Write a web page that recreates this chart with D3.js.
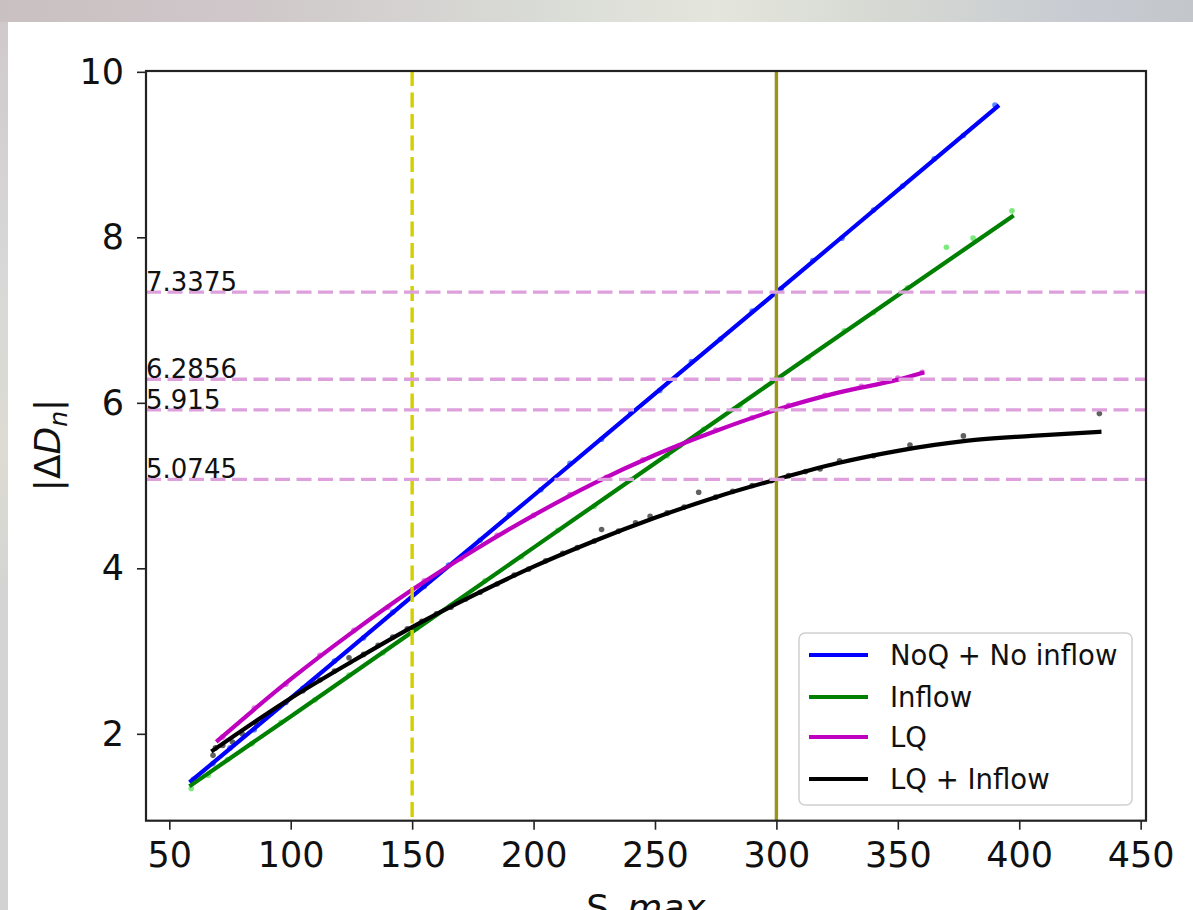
<!DOCTYPE html>
<html><head><meta charset="utf-8">
<script src="https://cdn.jsdelivr.net/npm/d3@7"></script>
<style>html,body{margin:0;padding:0;background:#fff;}svg{display:block;}</style>
</head><body>
<svg id="chart" width="1193" height="910"></svg>
<script>
// ---------- data ----------
const xTicks = [50, 100, 150, 200, 250, 300, 350, 400, 450];
const yTicks = [2, 4, 6, 8, 10];
const refValues = [7.3375, 6.2856, 5.915, 5.0745];
const refLabels = ["7.3375", "6.2856", "5.915", "5.0745"];
const vDashedX = 150;
const vSolidX = 300;

const seriesNames = ["NoQ + No inflow", "Inflow", "LQ", "LQ + Inflow"];

// fitted curves
const blueX = [59, 100, 150, 200, 250, 300, 350, 391];
const blueY = [1.43, 2.43, 3.66, 4.88, 6.11, 7.3375, 8.57, 9.58];
const greenX = [59, 100, 150, 200, 250, 300, 350, 397];
const greenY = [1.38, 2.21, 3.23, 4.25, 5.27, 6.2856, 7.30, 8.25];
const magentaX = [70, 100, 125, 150, 175, 200, 225, 250, 275, 300, 325, 350, 360];
const magentaY = [1.92, 2.66, 3.22, 3.74, 4.21, 4.64, 5.03, 5.37, 5.66, 5.915, 6.12, 6.28, 6.36];
const blackX = [68, 100, 125, 150, 175, 200, 225, 250, 275, 300, 325, 350, 378, 405, 433];
const blackY = [1.80, 2.43, 2.87, 3.29, 3.67, 4.02, 4.33, 4.61, 4.86, 5.0745, 5.27, 5.42, 5.54, 5.60, 5.65];

// scatter points
const blueDotX = [60, 68, 75, 85, 95, 105, 118, 130, 142, 155, 165, 178, 190, 203, 215, 228, 240, 252, 265, 277, 290, 302, 315, 327, 340, 352, 365, 377, 390];
const blueDotY = [1.45, 1.64, 1.83, 2.05, 2.32, 2.55, 2.88, 3.16, 3.47, 3.78, 4.04, 4.34, 4.65, 4.95, 5.27, 5.56, 5.88, 6.15, 6.50, 6.77, 7.11, 7.38, 7.72, 7.99, 8.33, 8.62, 8.95, 9.23, 9.60];
const greenDotX = [59, 66, 74, 84, 96, 110, 124, 138, 152, 166, 180, 195, 210, 225, 240, 255, 270, 285, 300, 313, 328, 340, 354, 370, 381, 397];
const greenDotY = [1.34, 1.50, 1.69, 1.88, 2.14, 2.41, 2.71, 2.98, 3.28, 3.55, 3.85, 4.14, 4.46, 4.75, 5.07, 5.36, 5.68, 5.97, 6.30, 6.54, 6.87, 7.09, 7.39, 7.88, 7.99, 8.32];
const magentaDotX = [72, 85, 98, 112, 126, 140, 155, 170, 185, 200, 215, 230, 245, 260, 275, 290, 305, 320, 335, 350, 360];
const magentaDotY = [1.96, 2.31, 2.60, 2.95, 3.25, 3.53, 3.85, 4.12, 4.40, 4.64, 4.89, 5.10, 5.31, 5.48, 5.67, 5.82, 5.97, 6.09, 6.20, 6.30, 6.37];
const blackDotX = [68, 69, 72, 76, 80, 86, 92, 98, 105, 112, 118, 124, 130, 136, 142, 148, 154, 160, 166, 172, 178, 185, 192, 198, 205, 212, 218, 225, 228, 235, 242, 248, 255, 262, 268, 275, 282, 290, 298, 305, 312, 318, 326, 340, 355, 377, 433];
const blackDotY = [1.74, 1.83, 1.86, 1.90, 2.00, 2.11, 2.25, 2.38, 2.52, 2.65, 2.76, 2.92, 2.96, 3.07, 3.17, 3.27, 3.36, 3.45, 3.53, 3.63, 3.71, 3.81, 3.92, 3.99, 4.09, 4.18, 4.25, 4.33, 4.47, 4.45, 4.55, 4.63, 4.67, 4.74, 4.92, 4.86, 4.93, 5.00, 5.06, 5.12, 5.17, 5.20, 5.30, 5.36, 5.49, 5.60, 5.87];

const lineColors = ["#0000ff", "#008000", "#bf00bf", "#000000"];
const dotColors = ["#4a7dff", "#6fe86f", "#e070e0", "#3a3a3a"];

// ---------- layout ----------
const svg = d3.select("#chart");
const L = 146, R = 1146, T = 71, B = 820.7;
const x = d3.scaleLinear().domain([40.4, 452.2]).range([L, R]);
const y = d3.scaleLinear().domain([0.95, 10.01]).range([B, T]);

// photo-like background
const defs = svg.append("defs");
const gTop = defs.append("linearGradient").attr("id", "gTop").attr("x1", "0").attr("x2", "1").attr("y1", "0").attr("y2", "0");
[["0", "#c9c0c2"], ["0.2", "#cfc7c9"], ["0.45", "#d9dbd6"], ["0.6", "#e4e6dd"], ["0.75", "#d5d8d2"], ["0.9", "#c8ccd2"], ["1", "#c3c7cc"]]
  .forEach(s => gTop.append("stop").attr("offset", s[0]).attr("stop-color", s[1]));
const gLeft = defs.append("linearGradient").attr("id", "gLeft").attr("x1", "0").attr("x2", "0").attr("y1", "0").attr("y2", "1");
[["0", "#cfc8ca"], ["0.3", "#d8d8d8"], ["0.5", "#dcdcd2"], ["0.65", "#d4d4d4"], ["1", "#d2d2d2"]]
  .forEach(s => gLeft.append("stop").attr("offset", s[0]).attr("stop-color", s[1]));
svg.append("rect").attr("x", 0).attr("y", 0).attr("width", 1193).attr("height", 910).attr("fill", "url(#gLeft)");
svg.append("rect").attr("x", 0).attr("y", 0).attr("width", 1193).attr("height", 22).attr("fill", "url(#gTop)");
svg.append("rect").attr("x", 8).attr("y", 22).attr("width", 1185).attr("height", 888).attr("fill", "#ffffff");

const plot = svg.append("g");

// scatter dots
const dotSets = [[blueDotX, blueDotY], [greenDotX, greenDotY], [magentaDotX, magentaDotY], [blackDotX, blackDotY]];
dotSets.forEach((d, i) => {
  plot.append("g").selectAll("circle").data(d[0].map((v, k) => [v, d[1][k]])).join("circle")
    .attr("cx", p => x(p[0])).attr("cy", p => y(p[1])).attr("r", 2.8)
    .attr("fill", dotColors[i]).attr("opacity", i === 3 ? 0.8 : 0.9);
});

// fitted lines
const lineGen = d3.line().x(p => x(p[0])).y(p => y(p[1])).curve(d3.curveMonotoneX);
const lineSets = [[blueX, blueY], [greenX, greenY], [magentaX, magentaY], [blackX, blackY]];
lineSets.forEach((d, i) => {
  plot.append("path").datum(d[0].map((v, k) => [v, d[1][k]]))
    .attr("d", lineGen).attr("fill", "none").attr("stroke", lineColors[i])
    .attr("stroke-width", 4.2).attr("stroke-linecap", "square").attr("stroke-linejoin", "round");
});

// vertical reference lines
plot.append("line").attr("x1", x(vDashedX)).attr("x2", x(vDashedX)).attr("y1", T).attr("y2", B)
  .attr("stroke", "#d2d000").attr("stroke-width", 3.4).attr("stroke-dasharray", "15,6.5");
plot.append("line").attr("x1", x(vSolidX)).attr("x2", x(vSolidX)).attr("y1", T).attr("y2", B)
  .attr("stroke", "#9a9418").attr("stroke-width", 3.4);

// horizontal dashed reference lines
refValues.forEach((v, i) => {
  plot.append("line").attr("x1", L).attr("x2", R).attr("y1", y(v)).attr("y2", y(v))
    .attr("stroke", "#dda0dd").attr("stroke-width", 3.4).attr("stroke-dasharray", "15,6.5");
  plot.append("text").attr("x", L).attr("y", y(v) - 1)
    .attr("font-family", "DejaVu Sans").attr("font-size", 26).attr("fill", "#111")
    .text(refLabels[i]);
});

// axes
const fontFam = "DejaVu Sans";
const xAxis = svg.append("g").attr("transform", `translate(0,${B})`)
  .call(d3.axisBottom(x).tickValues(xTicks).tickSize(9).tickPadding(12).tickSizeOuter(0));
const yAxis = svg.append("g").attr("transform", `translate(${L},0)`)
  .call(d3.axisLeft(y).tickValues(yTicks).tickSize(9).tickPadding(13).tickSizeOuter(0));
[xAxis, yAxis].forEach(a => {
  a.select(".domain").remove();
  a.selectAll("line").attr("stroke", "#222").attr("stroke-width", 1.6);
  a.selectAll("text").attr("font-family", fontFam).attr("font-size", 35).attr("fill", "#111");
});
// frame
svg.append("rect").attr("x", L).attr("y", T).attr("width", R - L).attr("height", B - T)
  .attr("fill", "none").attr("stroke", "#222").attr("stroke-width", 2.2);

// axis labels
const yl = svg.append("text").attr("transform", `translate(60,445) rotate(-90)`)
  .attr("text-anchor", "middle").attr("font-family", fontFam).attr("font-size", 36).attr("fill", "#111");
yl.append("tspan").text("|Δ");
yl.append("tspan").attr("font-style", "italic").text("D");
yl.append("tspan").attr("font-style", "italic").attr("font-size", 25).attr("dy", 7).text("n");
yl.append("tspan").attr("dy", -7).text("|");

const xl = svg.append("text").attr("x", 646).attr("y", 920)
  .attr("text-anchor", "middle").attr("font-family", fontFam).attr("font-size", 36).attr("fill", "#111");
xl.append("tspan").text("S_");
xl.append("tspan").attr("font-style", "italic").text("max");

// legend
const lg = svg.append("g");
lg.append("rect").attr("x", 799).attr("y", 633).attr("width", 333).attr("height", 172).attr("rx", 6)
  .attr("fill", "#fff").attr("fill-opacity", 0.85).attr("stroke", "#d0d0d0").attr("stroke-width", 1.5);
const rowsY = [655, 697, 737, 779];
seriesNames.forEach((n, i) => {
  lg.append("line").attr("x1", 809).attr("x2", 868).attr("y1", rowsY[i]).attr("y2", rowsY[i])
    .attr("stroke", lineColors[i]).attr("stroke-width", 4);
  lg.append("text").attr("x", 890).attr("y", rowsY[i] + 10).attr("font-family", fontFam)
    .attr("font-size", 27.5).attr("fill", "#111").text(n);
});
</script>
</body></html>
